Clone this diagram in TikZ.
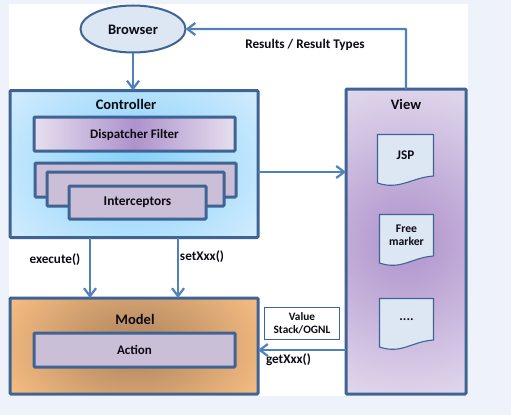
\documentclass[tikz,border=0pt]{standalone}
\usepackage{fontspec}
\setmainfont{Carlito}
\usetikzlibrary{arrows.meta,shapes.geometric}
\definecolor{pagebg}{HTML}{EEF2FB}
\definecolor{boxline}{HTML}{3F6494}
\definecolor{arrowblue}{HTML}{4F81BD}
\definecolor{txt}{HTML}{0B0B14}
\definecolor{lilac}{HTML}{CBBFD8}
\definecolor{docfill}{HTML}{DDE6F3}
\definecolor{CtrlIn}{HTML}{84D0F8}
\definecolor{CtrlOut}{HTML}{D2ECFE}
\definecolor{DispIn}{HTML}{AE92CC}
\definecolor{DispOut}{HTML}{E6DFEF}
\definecolor{ModelIn}{HTML}{AC825C}
\definecolor{ModelOut}{HTML}{F6BD82}
\pgfdeclareradialshading{ctrlshade}{\pgfpoint{0bp}{0bp}}{color(0bp)=(CtrlIn); color(30bp)=(CtrlOut); color(50bp)=(CtrlOut)}
\pgfdeclareradialshading{modelshade}{\pgfpoint{0bp}{0bp}}{color(0bp)=(ModelIn); color(29bp)=(ModelOut); color(50bp)=(ModelOut)}
\pgfdeclareradialshading{viewshade}{\pgfpoint{0bp}{0bp}}{color(0bp)=(DispIn); color(29bp)=(DispOut); color(50bp)=(DispOut)}
\tikzset{
  x=1pt,y=-1pt,
  box/.style={draw=boxline,line width=3pt,rounded corners=1pt,rectangle,inner sep=0pt,outer sep=0pt,
    font=\fontsize{13}{15}\selectfont\bfseries,text=txt,align=center},
  glow/.style n args={3}{path picture={\shade[shading=#1]
    ([xshift=-#2 pt,yshift=-#3 pt]path picture bounding box.center) rectangle
    ([xshift=#2 pt,yshift=#3 pt]path picture bounding box.center);}},
  lab/.style={inner sep=0pt,text=txt,font=\fontsize{13.2}{15}\selectfont\bfseries,align=center},
  title/.style={inner sep=0pt,text=txt,font=\fontsize{14.5}{16}\selectfont\bfseries},
  conn/.style={draw=arrowblue,line width=2.2pt,-{Straight Barb[length=8pt,width=12pt,line width=2.2pt]}},
  docshape/.style={draw=boxline,line width=1.1pt,fill=docfill},
}
\newcommand{\docbox}[3]{% left, top, right
  \path[docshape] (#1,#2) -- (#3,#2) -- (#3,#2+41.5)
    .. controls (#3-22,#2+43) and (#1+22,#2+56) .. (#1,#2+48.5) -- cycle;
}
\newcommand{\lowered}[1]{\raisebox{-1pt}[\height][\depth]{#1}}
\begin{document}
\begin{tikzpicture}
\useasboundingbox (0,0) rectangle (511,415);
\fill[pagebg] (0,0) rectangle (511,415);
\fill[white] (9,4) rectangle (468,396);

% Main boxes
\node[draw=boxline,line width=2pt,ellipse,fill=docfill,minimum width=105pt,minimum height=47pt,inner sep=0pt,outer sep=0pt,
  font=\fontsize{14.5}{16}\selectfont\bfseries,text=txt] (browser) at (133,29) {\lowered{Browser}};

\node[box,glow={ctrlshade}{130}{100},minimum width=248pt,minimum height=147pt] (ctrl) at (134,164) {};
\node[title] (ctrlt) at (126,104) {Controller};
\node[box,left color=DispOut,right color=DispOut,middle color=DispIn,minimum width=201pt,minimum height=34pt] (disp) at (134.5,134) {\lowered{Dispatcher Filter}};
\node[box,fill=lilac,minimum width=201pt,minimum height=34pt] (ic1) at (135.5,180) {};
\node[box,fill=lilac,minimum width=177pt,minimum height=34pt] (ic2) at (135.5,189) {};
\node[box,fill=lilac,minimum width=137pt,minimum height=33pt,font=\fontsize{13.4}{15}\selectfont\bfseries] (ic3) at (137.5,202.5) {Interceptors};

\node[box,glow={modelshade}{125}{80},minimum width=248pt,minimum height=96pt] (model) at (134,346) {};
\node[title] (modelt) at (135,319) {Model};
\node[box,fill=lilac,minimum width=201pt,minimum height=34pt] (action) at (134.5,350) {Action};

\node[box,glow={viewshade}{155}{155},minimum width=120pt,minimum height=305pt] (view) at (406,241.5) {};
\node[title] (viewt) at (406,104) {View};

% Documents
\docbox{377.5}{134.5}{433.5}
\node[lab] (jsp) at (405.5,155) {JSP};
\docbox{379.5}{214.5}{433.5}
\node[lab,font=\fontsize{11.7}{12.5}\selectfont\bfseries] (free) at (406.5,235) {Free\\marker};
\docbox{379.5}{298.5}{433.5}
\node[lab] (more) at (406.5,320) {....};

% Value stack note
\node[draw=boxline,line width=0.8pt,fill=white,minimum width=75pt,minimum height=32pt,inner sep=0pt,
  font=\fontsize{11.3}{13}\selectfont\bfseries,text=txt,align=center] (value) at (302,323.5) {Value\\Stack/OGNL};

% Connector anchors
\coordinate (rescorner) at (406,29);
\coordinate (execx) at (90,0);
\coordinate (setx) at (178,0);
\coordinate (viewin) at (0,172);
\coordinate (getin) at (0,350);

% Connectors
\draw[conn] (browser.south) -- (browser.south |- ctrl.north);
\draw[conn,rounded corners=0.5pt] (view.north -| rescorner) -- (rescorner) -- (browser.east);
\draw[conn] (ctrl.east |- viewin) -- (view.west |- viewin);
\draw[conn] (ctrl.south -| execx) -- (model.north -| execx);
\draw[conn] (ctrl.south -| setx) -- (model.north -| setx);
\draw[conn] (view.west |- getin) -- (model.east |- getin);

% Labels
\node[lab] (reslab) at (305,45) {Results / Result Types};
\node[lab] (execlab) at (55,260) {execute()};
\node[lab] (setlab) at (202,257) {setXxx()};
\node[lab] (getlab) at (288.5,359.5) {getXxx()};
\end{tikzpicture}
\end{document}
